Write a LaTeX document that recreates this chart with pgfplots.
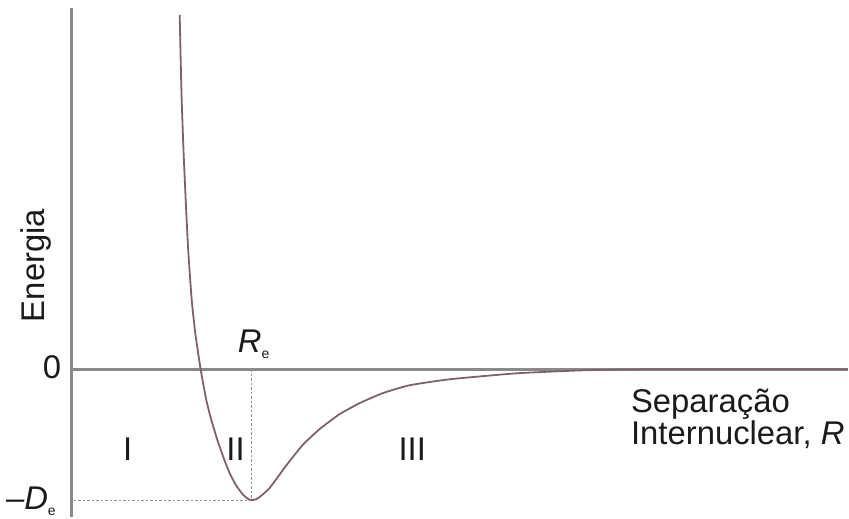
\documentclass[border=0pt]{standalone}
\usepackage{pgfplots}
\pgfplotsset{compat=1.18}
\usepackage{fontspec}
\setmainfont{Liberation Sans}
\definecolor{axisgray}{HTML}{8A8A8A}
\definecolor{curvecol}{HTML}{7E6170}
\definecolor{dashgray}{HTML}{939393}
\definecolor{txt}{HTML}{1A1A1A}
\begin{document}
\begin{tikzpicture}
\begin{axis}[
  x=1bp, y=1bp,
  xmin=0, xmax=849, ymin=-148, ymax=370,
  scale only axis, hide axis, clip=false,
]
% canvas
\path (axis cs:0,-148) rectangle (axis cs:849,370);
% axes
\draw[axisgray, line width=3bp] (axis cs:72,-148) -- (axis cs:72,362);
\draw[axisgray, line width=3bp] (axis cs:72,0) -- (axis cs:849,0);
% guides at the minimum
\draw[dashgray, line width=1.2bp, dash pattern=on 2.5bp off 2bp] (axis cs:252,0) -- (axis cs:252,-131);
\draw[dashgray, line width=1.2bp, dash pattern=on 2.5bp off 2bp] (axis cs:74,-131) -- (axis cs:252,-131);
% potential energy curve
\addplot[curvecol, line width=1.8bp, smooth, tension=0.3] coordinates {
  (180,355) (181,310) (182,270) (183.8,220) (186,170) (188.5,120) (192,70)
  (195.8,35) (201,0) (206.5,-30) (211.5,-50) (217.5,-70) (224.5,-90)
  (230.5,-105) (237,-117) (243,-125) (248,-129.5) (252,-131) (256,-130.3)
  (260,-128) (270,-119) (287,-96) (303,-76) (320,-60) (340,-45) (360,-34)
  (383,-24) (410,-16) (450,-10) (517,-4) (583,-1) (640,0) (700,0) (849,0)
};
% labels
\node[txt, rotate=90, font=\fontsize{33}{33}\selectfont] at (axis cs:36,104) {Energia};
\node[txt, font=\fontsize{33}{33}\selectfont] at (axis cs:52,2) {0};
\node[txt, anchor=east, font=\fontsize{33}{33}\selectfont, inner sep=0pt] at (axis cs:56,-132) {\textit{–D}\raisebox{-0.35ex}{\fontsize{14}{14}\selectfont e}};
\node[txt, anchor=base, font=\fontsize{33}{33}\selectfont, inner sep=0pt] at (axis cs:254,17) {\textit{R}\raisebox{-0.35ex}{\fontsize{14}{14}\selectfont e}};
\node[txt, font=\fontsize{33}{33}\selectfont] at (axis cs:128,-80) {I};
\node[txt, font=\fontsize{33}{33}\selectfont] at (axis cs:236,-80) {II};
\node[txt, font=\fontsize{33}{33}\selectfont] at (axis cs:413,-80) {III};
\node[txt, anchor=base west, font=\fontsize{33}{33}\selectfont, inner sep=0pt] at (axis cs:632,-43) {Separação};
\node[txt, anchor=base west, font=\fontsize{33}{33}\selectfont, inner sep=0pt] at (axis cs:632,-75) {Internuclear, \textit{R}};
\end{axis}
\end{tikzpicture}
\end{document}
